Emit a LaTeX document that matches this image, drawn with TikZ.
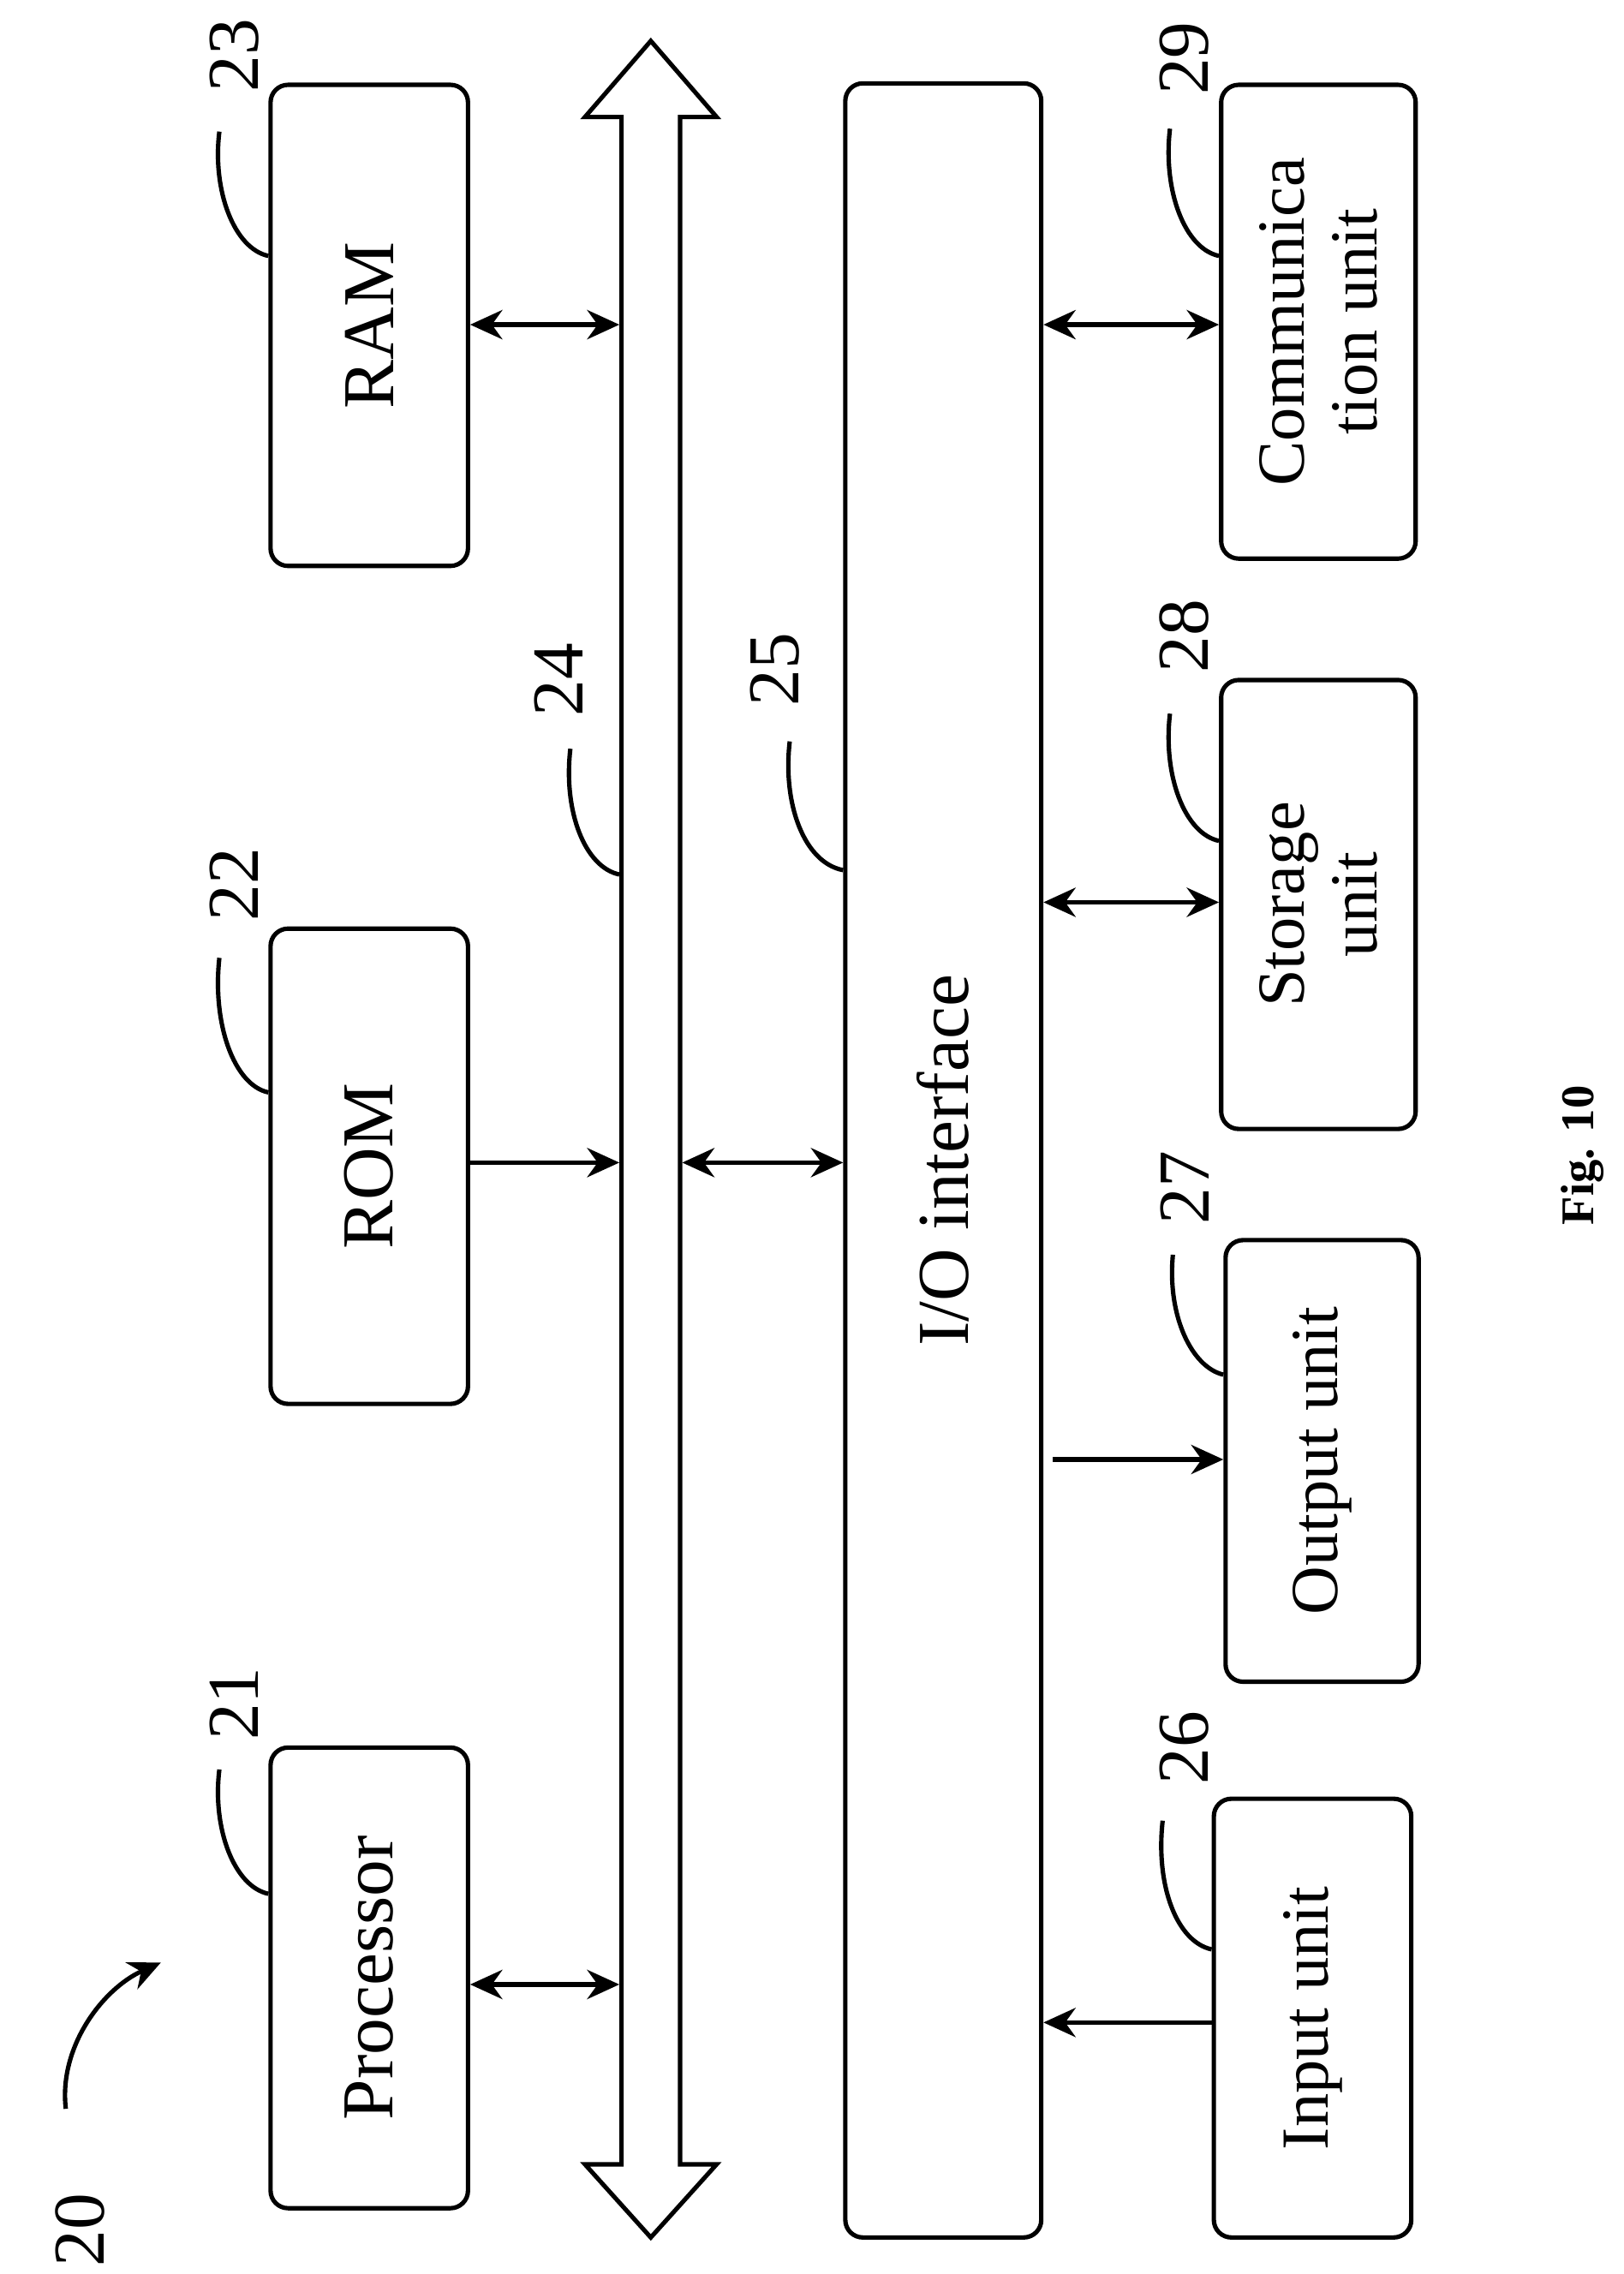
\documentclass[tikz,border=0pt]{standalone}
\usepackage{fontspec}
\setmainfont{Liberation Serif}
\usetikzlibrary{arrows.meta}
\begin{document}
\begin{tikzpicture}[x=1pt,y=-1pt,line width=3pt,
  box/.style={draw,rounded corners=12pt,inner sep=0pt},
  txt/.style={rotate=90,font=\fontsize{50}{52}\selectfont,align=center},
  num/.style={rotate=90,font=\fontsize{50}{52}\selectfont},
  da/.style={{Stealth[length=22pt,width=20pt]}-{Stealth[length=22pt,width=20pt]}},
  sa/.style={-{Stealth[length=22pt,width=20pt]}}]
\useasboundingbox (0,0) rectangle (1110,1555);
% boxes
\node[box,minimum width=135pt,minimum height=315pt] (proc) at (252.5,1352.5) {};
\node[txt] at (proc) {Processor};
\node[box,minimum width=135pt,minimum height=325pt] (rom) at (252.5,797.5) {};
\node[txt] at (rom) {ROM};
\node[box,minimum width=135pt,minimum height=329pt] (ram) at (252.5,222.5) {};
\node[txt] at (ram) {RAM};
\node[box,minimum width=134pt,minimum height=1473pt] (io) at (645,793.5) {};
\node[txt] at (io) {I/O interface};
\node[box,minimum width=133pt,minimum height=324pt] (comm) at (901.5,220) {};
\node[txt,font=\fontsize{46}{50}\selectfont] at (comm) {Communica\\tion unit};
\node[box,minimum width=133pt,minimum height=307pt] (stor) at (901.5,618.5) {};
\node[txt,font=\fontsize{46}{50}\selectfont] at (stor) {Storage\\unit};
\node[box,minimum width=132pt,minimum height=302pt] (out) at (904,999) {};
\node[txt,font=\fontsize{46}{50}\selectfont] at (out) {Output unit};
\node[box,minimum width=135pt,minimum height=300pt] (inp) at (897.5,1380) {};
\node[txt,font=\fontsize{46}{50}\selectfont] at (inp) {Input unit};
% bus
\node[minimum width=40pt,minimum height=1400pt,inner sep=0pt] (bus) at (445,780) {};
\draw[line join=miter] (445,28) -- (490,80) -- (465,80) -- (465,1480) -- (490,1480) -- (445,1530)
  -- (400,1480) -- (425,1480) -- (425,80) -- (400,80) -- cycle;
% connectors
\draw[da] (proc.east |- 0,1357) -- (bus.west |- 0,1357);
\draw[sa] (rom.east |- 0,795) -- (bus.west |- 0,795);
\draw[da] (ram.east |- 0,222) -- (bus.west |- 0,222);
\draw[da] (bus.east |- 0,795) -- (io.west |- 0,795);
\draw[da] (io.east |- 0,222) -- (comm.west |- 0,222);
\draw[da] (io.east |- 0,617) -- (stor.west |- 0,617);
\coordinate (os) at (720,998);
\draw[sa] (os) -- (out.west |- os);
\draw[sa] (inp.west |- 0,1383) -- (io.east |- 0,1383);
% labels
\node[num] (n21) at (160,1165) {21};
\draw (proc.west |- 0,1295) .. controls (160,1290) and (145,1250) .. (150,1210);
\node[num] (n22) at (160,605) {22};
\draw (rom.west |- 0,747) .. controls (160,742) and (145,700) .. (150,655);
\node[num] (n23) at (160,38) {23};
\draw (ram.west |- 0,175) .. controls (160,170) and (145,130) .. (150,90);
\node[num] (n24) at (382,465) {24};
\draw (bus.west |- 0,598) .. controls (400,593) and (385,555) .. (390,512);
\node[num] (n25) at (530,458) {25};
\draw (io.west |- 0,595) .. controls (550,590) and (535,550) .. (540,507);
\node[num] (n26) at (810,1195) {26};
\draw (inp.west |- 0,1333) .. controls (805,1328) and (790,1290) .. (795,1245);
\node[num] (n27) at (810,812) {27};
\draw (out.west |- 0,940) .. controls (815,935) and (798,900) .. (802,858);
\node[num] (n28) at (810,435) {28};
\draw (stor.west |- 0,575) .. controls (810,570) and (795,530) .. (800,488);
\node[num] (n29) at (810,40) {29};
\draw (comm.west |- 0,175) .. controls (810,170) and (795,130) .. (800,88);
\node[num] (n20) at (55,1525) {20};
\coordinate (c1) at (45,1442);
\coordinate (c2) at (110,1342);
\draw[sa] (c1) .. controls (40,1400) and (70,1360) .. (c2);
\node[rotate=90,font=\bfseries\fontsize{32}{34}\selectfont] (fig) at (1082,790) {Fig. 10};
\end{tikzpicture}
\end{document}
